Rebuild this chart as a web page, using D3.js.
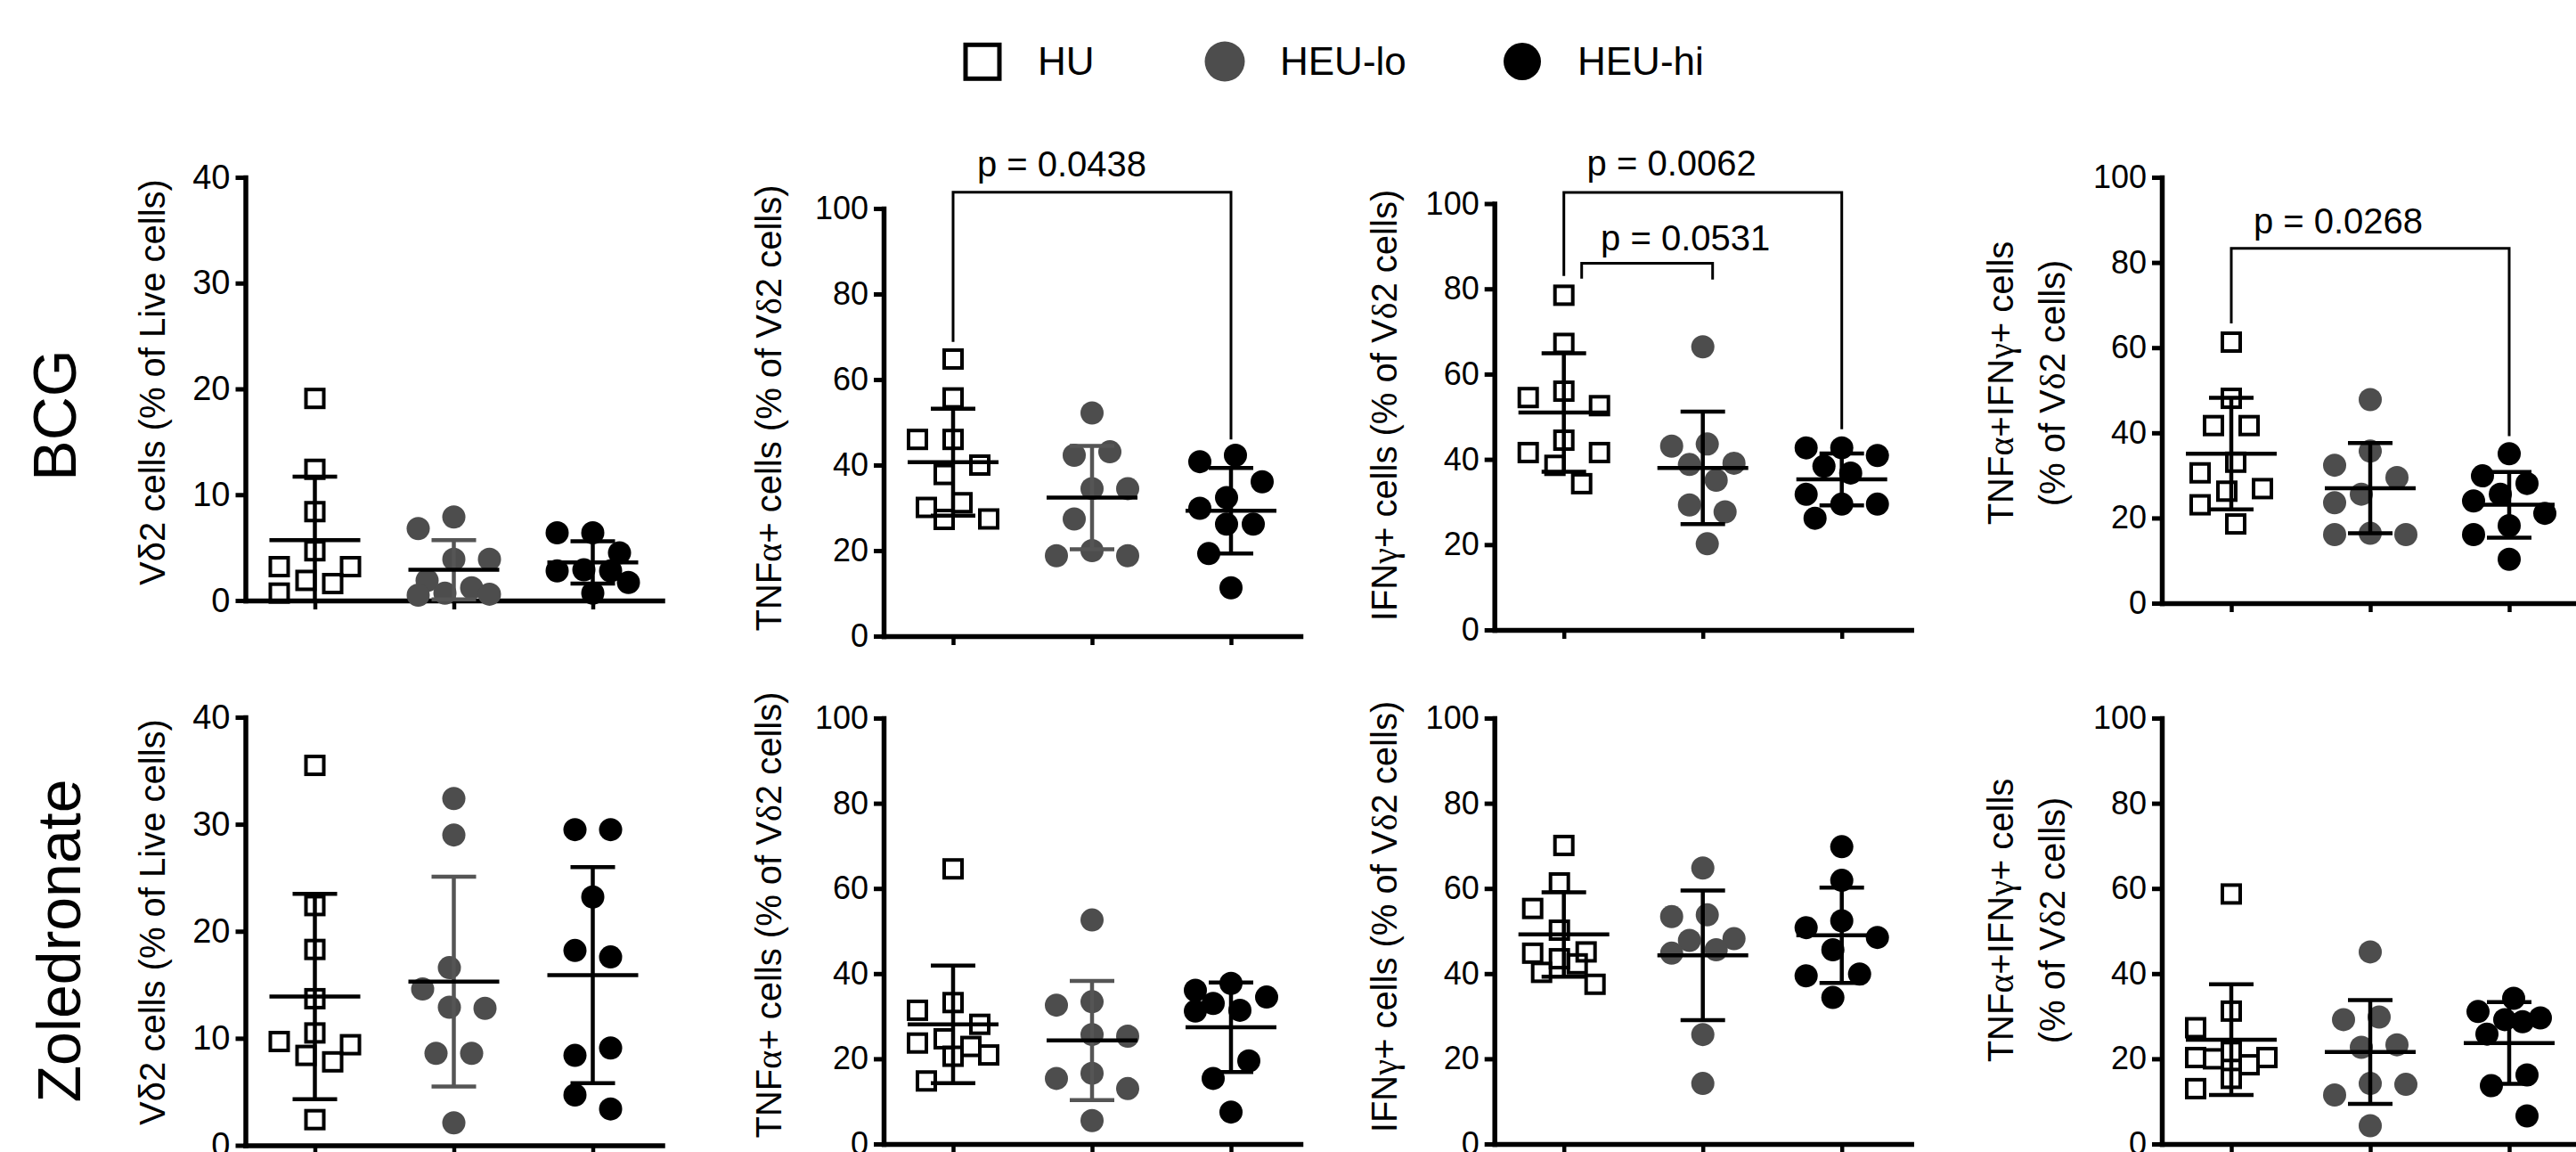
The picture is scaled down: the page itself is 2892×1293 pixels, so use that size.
<!DOCTYPE html>
<html><head><meta charset="utf-8">
<script src="https://cdn.jsdelivr.net/npm/d3@7"></script>
<style>
html,body{margin:0;padding:0;background:#fff;}
svg{display:block;}
</style></head><body>
<svg id="chart" width="2892" height="1293"></svg>
<script>
// ---------------- categories & ticks ----------------
const groups = ["HU", "HEU-lo", "HEU-hi"];
const stimuli = ["BCG", "Zoledronate"];
const ticksVd2 = [0, 10, 20, 30, 40];
const ticksPct = [0, 20, 40, 60, 80, 100];

// ---------------- BCG ----------------
const bcg_vd2_HU = [19.1, 12.4, 8.4, 4.7, 3.2, 3.2, 1.9, 1.6, 0.7];
const bcg_vd2_lo = [7.9, 6.8, 3.9, 3.9, 1.9, 1.2, 0.7, 0.6, 0.5];
const bcg_vd2_hi = [6.4, 6.4, 4.5, 2.9, 2.8, 2.8, 1.7, 0.7];
const bcg_vd2_mean = [5.7, 2.9, 3.6];
const bcg_vd2_sd = [6.0, 2.8, 2.0];

const bcg_tnf_HU = [64.8, 55.7, 46.0, 46.0, 40.0, 37.8, 31.2, 30.1, 27.4, 27.3];
const bcg_tnf_lo = [52.2, 43.1, 42.3, 34.5, 34.5, 27.4, 20.0, 18.8, 18.8];
const bcg_tnf_hi = [42.3, 40.8, 36.1, 32.4, 29.9, 26.2, 26.2, 19.3, 11.3];
const bcg_tnf_mean = [40.7, 32.4, 29.3];
const bcg_tnf_sd = [12.5, 12.1, 10.0];

const bcg_ifn_HU = [78.5, 67.2, 56.0, 54.5, 52.6, 44.5, 41.6, 41.6, 38.6, 34.3];
const bcg_ifn_lo = [66.4, 43.6, 43.1, 39.1, 38.8, 35.1, 29.3, 27.7, 20.2];
const bcg_ifn_hi = [42.7, 42.7, 40.9, 38.4, 36.8, 31.8, 29.5, 29.5, 26.2];
const bcg_ifn_mean = [51.0, 38.0, 35.3];
const bcg_ifn_sd = [13.9, 13.2, 6.1];

const bcg_dp_HU = [61.3, 48.1, 41.7, 41.7, 33.1, 30.6, 26.9, 26.3, 23.1, 18.6];
const bcg_dp_lo = [47.8, 35.7, 32.4, 29.5, 25.6, 23.6, 16.4, 16.1, 16.1];
const bcg_dp_hi = [35.1, 29.9, 28.1, 25.6, 24.0, 21.1, 18.2, 16.1, 10.3];
const bcg_dp_mean = [35.1, 27.0, 23.1];
const bcg_dp_sd = [13.1, 10.6, 7.7];

// ---------------- Zoledronate ----------------
const zol_vd2_HU = [35.5, 22.4, 18.3, 13.7, 10.5, 9.7, 9.4, 8.4, 7.8, 2.4];
const zol_vd2_lo = [32.4, 29.0, 16.6, 14.6, 12.9, 12.8, 8.6, 8.6, 2.1];
const zol_vd2_hi = [29.5, 29.5, 23.2, 18.2, 17.6, 9.1, 8.4, 4.7, 3.4];
const zol_vd2_mean = [13.9, 15.3, 15.9];
const zol_vd2_sd = [9.6, 9.8, 10.1];

const zol_tnf_HU = [64.6, 33.2, 31.4, 28.1, 24.7, 23.7, 22.9, 20.9, 20.6, 14.8];
const zol_tnf_lo = [52.6, 33.4, 32.6, 25.7, 25.3, 16.6, 15.4, 13.0, 5.5];
const zol_tnf_hi = [37.7, 36.1, 34.5, 33.0, 31.4, 31.2, 19.5, 15.4, 7.5];
const zol_tnf_mean = [28.1, 24.3, 27.4];
const zol_tnf_sd = [13.8, 14.0, 10.5];

const zol_ifn_HU = [70.1, 61.3, 55.3, 50.2, 45.1, 44.8, 43.5, 42.3, 40.3, 37.5];
const zol_ifn_lo = [64.8, 53.8, 53.4, 48.2, 47.8, 45.6, 44.8, 25.7, 14.2];
const zol_ifn_hi = [69.8, 61.9, 52.4, 50.8, 48.5, 45.6, 39.9, 39.5, 34.4];
const zol_ifn_mean = [49.2, 44.3, 49.0];
const zol_ifn_sd = [9.9, 15.2, 11.2];

const zol_dp_HU = [58.7, 31.2, 27.3, 21.7, 20.3, 20.3, 20.0, 18.6, 15.4, 13.0];
const zol_dp_lo = [45.1, 29.8, 29.2, 23.3, 22.7, 14.2, 14.0, 11.5, 4.3];
const zol_dp_hi = [34.2, 31.1, 29.6, 29.2, 28.7, 25.8, 16.2, 13.7, 6.6];
const zol_dp_mean = [24.5, 21.6, 23.7];
const zol_dp_sd = [13.0, 12.2, 9.6];

// ---------------- significance annotations ----------------
const brackets = [
  {panel: 1, from: 0, to: 2, level: 103.8, endFrom: 68.8, endTo: 46.0, label: "p = 0.0438"},
  {panel: 2, from: 0, to: 2, level: 102.6, endFrom: 83.0, endTo: 47.1, label: "p = 0.0062"},
  {panel: 2, from: 0, to: 1, level: 86.0, endFrom: 82.4, endTo: 82.2, label: "p = 0.0531"},
  {panel: 3, from: 0, to: 2, level: 83.3, endFrom: 65.7, endTo: 39.2, label: "p = 0.0268"}
];
// bracket layout tweaks (pixels), in the same order as brackets
const bracketLayout = [
  {shiftFrom: 0, shiftTo: 0, dx: -34, dy: -18},
  {shiftFrom: 0, shiftTo: 0, dx: -35, dy: -19},
  {shiftFrom: 20, shiftTo: 11, dx: 43, dy: -14},
  {shiftFrom: 0, shiftTo: 0, dx: -36, dy: -17}
];

// ---------------- labels ----------------
const S = "sans", G = "serif";
const labelVd2 = [[["V\u03b42 cells (% of Live cells)", S]]];
const labelTnf = [[["TNF", S], ["\u03b1", G], ["+ cells (% of V", S], ["\u03b4", G], ["2 cells)", S]]];
const labelIfn = [[["IFN", S], ["\u03b3", G], ["+ cells (% of V", S], ["\u03b4", G], ["2 cells)", S]]];
const labelDp = [
  [["TNF", S], ["\u03b1", G], ["+IFN", S], ["\u03b3", G], ["+ cells", S]],
  [["(% of V", S], ["\u03b4", G], ["2 cells)", S]]
];

// ---------------- layout ----------------
const SANS = "'Liberation Sans', Arial, Helvetica, sans-serif";
const SERIF = "'Liberation Serif', 'Times New Roman', serif";
const colX = [275.5, 992, 1677.7, 2427];
const labelXs = [[171], [862.5], [1553.6], [2246, 2304]];
const rowLayout = [
  {yTop: [199, 234, 228.5, 199], yBottom: [674, 714, 707, 677], labelY: [429, 458, 455, 430]},
  {yTop: [805, 806, 806, 806], yBottom: [1285.5, 1284, 1284, 1284], labelY: [1035, 1027, 1029, 1033]}
];
const rowLabelPos = [[61, 466], [66, 1056]];

const panelData = [
  [[bcg_vd2_HU, bcg_vd2_lo, bcg_vd2_hi], bcg_vd2_mean, bcg_vd2_sd, ticksVd2, labelVd2],
  [[bcg_tnf_HU, bcg_tnf_lo, bcg_tnf_hi], bcg_tnf_mean, bcg_tnf_sd, ticksPct, labelTnf],
  [[bcg_ifn_HU, bcg_ifn_lo, bcg_ifn_hi], bcg_ifn_mean, bcg_ifn_sd, ticksPct, labelIfn],
  [[bcg_dp_HU, bcg_dp_lo, bcg_dp_hi], bcg_dp_mean, bcg_dp_sd, ticksPct, labelDp],
  [[zol_vd2_HU, zol_vd2_lo, zol_vd2_hi], zol_vd2_mean, zol_vd2_sd, ticksVd2, labelVd2],
  [[zol_tnf_HU, zol_tnf_lo, zol_tnf_hi], zol_tnf_mean, zol_tnf_sd, ticksPct, labelTnf],
  [[zol_ifn_HU, zol_ifn_lo, zol_ifn_hi], zol_ifn_mean, zol_ifn_sd, ticksPct, labelIfn],
  [[zol_dp_HU, zol_dp_lo, zol_dp_hi], zol_dp_mean, zol_dp_sd, ticksPct, labelDp]
];

const GREY = "#4d4d4d";
const svg = d3.select("#chart");

// bounded beeswarm: each point (highest first) takes the slot nearest the centre that keeps
// distance D from placed points; if none is free, the slot with the most room.
// Vertically connected clusters are then centred on the group position.
function swarm(values, y, D, step, maxOff) {
  const slots = [0];
  for (let s = step; s <= maxOff + 1e-6; s += step) slots.push(-s, s);
  const order = values.map((v, i) => i).sort((a, b) => values[b] - values[a]);
  const placed = [];
  const out = new Array(values.length);
  let flip = false;
  order.forEach(i => {
    const py = y(values[i]);
    const room = slots.map(sx => d3.min(placed, p => Math.hypot(p.x - sx, p.y - py)) ?? Infinity);
    let pick = -1;
    for (let k = 0; k < slots.length; k++) {
      if (room[k] >= D - 1e-6) {
        pick = k;
        // balance left/right when the mirrored slot is free as well
        if (slots[k] !== 0 && k + 1 < slots.length && room[k + 1] >= D - 1e-6 && flip) pick = k + 1;
        if (slots[k] !== 0) flip = !flip;
        break;
      }
    }
    if (pick < 0) pick = d3.maxIndex(room);
    const x = slots[pick];
    placed.push({x, y: py, i});
    out[i] = x;
  });
  const byY = placed.slice().sort((a, b) => a.y - b.y);
  let cluster = [];
  const flush = () => {
    if (!cluster.length) return;
    const mid = (d3.min(cluster, p => p.x) + d3.max(cluster, p => p.x)) / 2;
    cluster.forEach(p => { out[p.i] = p.x - mid; });
    cluster = [];
  };
  byY.forEach((p, k) => {
    if (k > 0 && p.y - byY[k - 1].y >= D) flush();
    cluster.push(p);
  });
  flush();
  return out;
}

function addLabel(g, segs, x, y, size) {
  const t = g.append("text")
    .attr("transform", `translate(${x},${y}) rotate(-90)`)
    .attr("text-anchor", "middle")
    .attr("dominant-baseline", "central")
    .attr("font-size", size)
    .attr("fill", "#000");
  segs.forEach(([s, f]) => t.append("tspan").attr("font-family", f === G ? SERIF : SANS).text(s));
}

const xScales = [];
const yScales = [];

panelData.forEach((pd, pi) => {
  const [series, means, sds, ticks, label] = pd;
  const row = Math.floor(pi / 4), col = pi % 4;
  const L = rowLayout[row];
  const ax = colX[col];
  const maxV = ticks[ticks.length - 1];
  const x = d3.scalePoint().domain(groups).range([ax, ax + 468]).padding(0.5);
  const y = d3.scaleLinear().domain([0, maxV]).range([L.yBottom[col], L.yTop[col]]);
  xScales.push(x); yScales.push(y);
  const g = svg.append("g");
  const tickFont = col === 0 ? 38 : 36;

  // y axis
  const ya = g.append("g").attr("transform", `translate(${ax},0)`)
    .call(d3.axisLeft(y).tickValues(ticks).tickSize(11).tickPadding(6).tickSizeOuter(0).tickFormat(d3.format("d")));
  ya.select(".domain").attr("stroke-width", 5.5).attr("stroke-linecap", "square");
  ya.selectAll(".tick line").attr("stroke-width", 5);
  ya.selectAll(".tick text").attr("font-family", SANS).attr("font-size", tickFont).attr("fill", "#000");

  // x axis
  const xa = g.append("g").attr("transform", `translate(0,${y(0)})`)
    .call(d3.axisBottom(x).tickSize(10).tickSizeOuter(0).tickFormat(""));
  xa.select(".domain").attr("stroke-width", 5.5).attr("stroke-linecap", "square");
  xa.selectAll(".tick line").attr("stroke-width", 4.5);

  // axis label
  label.forEach((segs, li) => addLabel(g, segs, labelXs[col][li], L.labelY[col], 40));

  // points
  series.forEach((vals, gi) => {
    const cx = x(groups[gi]);
    const offs = swarm(vals, y, 36, 10, 40);
    vals.forEach((v, k) => {
      if (gi === 0) {
        g.append("rect").attr("x", cx + offs[k] - 10).attr("y", y(v) - 10)
          .attr("width", 20).attr("height", 20)
          .attr("fill", "none").attr("stroke", "#000").attr("stroke-width", 4);
      } else {
        g.append("circle").attr("cx", cx + offs[k]).attr("cy", y(v)).attr("r", 13)
          .attr("fill", gi === 1 ? GREY : "#000");
      }
    });
  });

  // mean +- SD
  series.forEach((vals, gi) => {
    const cx = x(groups[gi]);
    const m = means[gi], s = sds[gi];
    const sdColor = (gi === 1 && col < 2) ? "#555" : "#000";
    const lo = Math.max(0, m - s), hi = m + s;
    g.append("line").attr("x1", cx).attr("x2", cx).attr("y1", y(lo)).attr("y2", y(hi))
      .attr("stroke", sdColor).attr("stroke-width", 4.5);
    g.append("line").attr("x1", cx - 25).attr("x2", cx + 25).attr("y1", y(hi)).attr("y2", y(hi))
      .attr("stroke", sdColor).attr("stroke-width", 4.5);
    if (m - s > 0) {
      g.append("line").attr("x1", cx - 25).attr("x2", cx + 25).attr("y1", y(m - s)).attr("y2", y(m - s))
        .attr("stroke", sdColor).attr("stroke-width", 4.5);
    }
    g.append("line").attr("x1", cx - 51).attr("x2", cx + 51).attr("y1", y(m)).attr("y2", y(m))
      .attr("stroke", "#000").attr("stroke-width", 4.5);
  });
});

// significance brackets
brackets.forEach((b, i) => {
  const lay = bracketLayout[i];
  const x = xScales[b.panel], y = yScales[b.panel];
  const x1 = x(groups[b.from]) + lay.shiftFrom, x2 = x(groups[b.to]) + lay.shiftTo;
  const path = d3.path();
  path.moveTo(x1, y(b.endFrom));
  path.lineTo(x1, y(b.level));
  path.lineTo(x2, y(b.level));
  path.lineTo(x2, y(b.endTo));
  svg.append("path").attr("d", path.toString()).attr("fill", "none")
    .attr("stroke", "#000").attr("stroke-width", 3);
  svg.append("text").attr("x", (x1 + x2) / 2 + lay.dx).attr("y", y(b.level) + lay.dy)
    .attr("text-anchor", "middle").attr("font-family", SANS).attr("font-size", 40)
    .attr("fill", "#000").text(b.label);
});

// row labels
stimuli.forEach((s, i) => {
  svg.append("text")
    .attr("transform", `translate(${rowLabelPos[i][0]},${rowLabelPos[i][1]}) rotate(-90)`)
    .attr("text-anchor", "middle").attr("dominant-baseline", "central")
    .attr("font-family", SANS).attr("font-size", 68).attr("fill", "#000").text(s);
});

// legend
const legendPos = [[1103, 1165], [1375, 1437], [1709, 1771]];
groups.forEach((gname, i) => {
  const [mx, tx] = legendPos[i];
  if (i === 0) {
    svg.append("rect").attr("x", mx - 19).attr("y", 69.3 - 19).attr("width", 38).attr("height", 38)
      .attr("fill", "none").attr("stroke", "#000").attr("stroke-width", 5);
  } else {
    svg.append("circle").attr("cx", mx).attr("cy", 69).attr("r", i === 1 ? 22.5 : 21)
      .attr("fill", i === 1 ? GREY : "#000");
  }
  svg.append("text").attr("x", tx).attr("y", 84).attr("font-family", SANS)
    .attr("font-size", 44).attr("fill", "#000").text(gname);
});
</script>
</body></html>
